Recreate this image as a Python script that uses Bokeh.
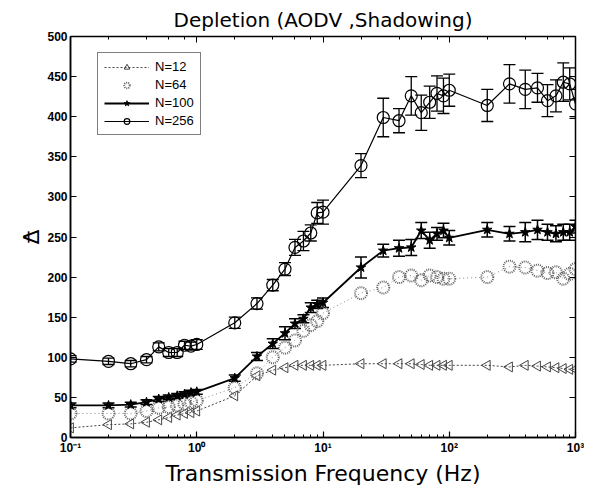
import numpy as np
from bokeh.plotting import figure
from bokeh.models import (ColumnDataSource, Whisker, TeeHead, LogAxis, LinearAxis,
                          Legend, LegendItem, CustomJSTickFormatter, Range1d, LogTicker,
                          SingleIntervalTicker)
from bokeh.embed import file_html
from bokeh.resources import INLINE

freq = [0.1, 0.2, 0.3, 0.4, 0.5, 0.6, 0.7, 0.8, 0.9, 1,
        2, 3, 4, 5, 6, 7, 8, 9, 10,
        20, 30, 40, 50, 60, 70, 80, 90, 100,
        200, 300, 400, 500, 600, 700, 800, 900, 1000]

n12 = [12, 16, 17, 19, 22, 25, 28, 30, 31, 33,
       52, 77, 84, 87, 90, 90, 90, 90, 90,
       92, 92, 92, 92, 91, 90, 90, 90, 90,
       90, 88, 90, 89, 88, 87, 86, 85, 85]

n64 = [30, 30, 30, 33, 37, 38, 40, 42, 44, 46,
       62, 80, 100, 112, 121, 133, 140, 145, 155,
       180, 187, 200, 202, 196, 202, 200, 198, 198,
       200, 213, 212, 208, 205, 206, 198, 204, 210]

n100 = [40, 40, 41, 44, 48, 50, 52, 54, 56, 57,
        74, 101, 117, 130, 142, 148, 162, 166, 168,
        212, 233, 236, 237, 258, 246, 254, 258, 249,
        259, 254, 256, 259, 256, 254, 256, 256, 263]
n100_err = [3, 3, 3, 3, 3, 3, 3, 3, 3, 3,
            4, 5, 6, 8, 6, 5, 6, 5, 6,
            13, 8, 10, 10, 10, 10, 8, 9, 9,
            9, 9, 12, 12, 10, 10, 10, 10, 8]

n256 = [98, 95, 92, 97, 113, 106, 106, 115, 114, 116,
        143, 167, 190, 210, 237, 245, 255, 280, 281,
        339, 399, 395, 426, 405, 418, 429, 426, 433,
        414, 441, 434, 436, 420, 426, 443, 441, 416]
n256_err = [4, 4, 4, 4, 5, 5, 5, 5, 5, 6,
            7, 7, 7, 8, 10, 12, 10, 13, 15,
            15, 24, 15, 24, 22, 20, 22, 22, 20,
            20, 24, 24, 18, 20, 20, 24, 20, 18]

W, H = 584, 490
p = figure(width=W, height=H, x_axis_type="log", output_backend="svg",
           toolbar_location=None, x_range=Range1d(0.1, 1000), y_range=Range1d(0, 500),
           min_border_left=70, min_border_right=W - 575, min_border_top=36,
           min_border_bottom=H - 437)
p.title.text = "Depletion (AODV ,Shadowing)"
p.title.align = "center"
p.title.text_font = "DejaVu Sans"
p.title.text_font_size = "20px"
p.title.text_font_style = "normal"
p.title.text_color = "black"
p.title.offset = 0
p.grid.visible = False
p.outline_line_color = "black"
p.outline_line_width = 1.5
p.background_fill_color = "white"
p.border_fill_color = "white"

fmt = CustomJSTickFormatter(code="""
const sup = {'-':'\u207b','0':'\u2070','1':'\u00b9','2':'\u00b2','3':'\u00b3','4':'\u2074','5':'\u2075','6':'\u2076','7':'\u2077','8':'\u2078','9':'\u2079'};
const e = String(Math.round(Math.log10(tick)));
let s = '10';
for (const c of e) { s += sup[c]; }
return s;
""")

xa = p.xaxis[0]
xa.formatter = fmt
xa.axis_label = "Transmission Frequency (Hz)"
xa.axis_label_text_font = "DejaVu Sans"
xa.axis_label_text_font_size = "22px"
xa.axis_label_text_font_style = "normal"
xa.axis_label_text_color = "black"
xa.axis_label_standoff = 3
ya = p.yaxis[0]
ya.ticker = SingleIntervalTicker(interval=50)
ya.axis_label = "_\n\u0394"
ya.axis_label_text_font = "DejaVu Sans"
ya.axis_label_text_font_size = "22px"
ya.axis_label_text_font_style = "normal"
ya.axis_label_text_color = "black"
ya.axis_label_text_line_height = 0.62
ya.axis_label_standoff = 0
ya.minor_tick_line_color = None

for ax in (xa, ya):
    ax.major_label_text_font = "Liberation Sans"
    ax.major_label_text_font_style = "bold"
    ax.major_label_text_font_size = "12px"
    ax.major_label_text_color = "black"
    ax.axis_line_color = "black"
    ax.axis_line_width = 1.5
    ax.major_tick_in = 6
    ax.major_tick_out = 0
    ax.minor_tick_in = 3
    ax.minor_tick_out = 0
    ax.major_tick_line_color = "black"
    ax.major_tick_line_width = 1.2
    ax.minor_tick_line_width = 1
    ax.major_label_standoff = 3

top = LogAxis(ticker=LogTicker(), major_tick_in=6, major_tick_out=0,
              minor_tick_in=3, minor_tick_out=0, axis_line_color="black")
top.major_label_text_color = None
top.major_label_text_font_size = "0px"
right = LinearAxis(ticker=SingleIntervalTicker(interval=50), major_tick_in=6, major_tick_out=0,
                   minor_tick_line_color=None, axis_line_color="black")
right.major_label_text_color = None
right.major_label_text_font_size = "0px"
p.add_layout(top, "above")
p.add_layout(right, "right")

src12 = ColumnDataSource(dict(x=freq, y=n12, ang=[np.pi / 2] * len(freq)))
src64 = ColumnDataSource(dict(x=freq, y=n64))
src100 = ColumnDataSource(dict(x=freq, y=n100,
                               lo=[v - e for v, e in zip(n100, n100_err)],
                               hi=[v + e for v, e in zip(n100, n100_err)]))
src256 = ColumnDataSource(dict(x=freq, y=n256,
                               lo=[v - e for v, e in zip(n256, n256_err)],
                               hi=[v + e for v, e in zip(n256, n256_err)]))

# N=12
l12 = p.line("x", "y", source=src12, line_color="#444444", line_dash="2 2", line_width=1)
m12 = p.scatter("x", "y", source=src12, marker="triangle", angle="ang", size=10,
                fill_color=None, line_color="#444444", line_width=1)
# N=64
l64 = p.line("x", "y", source=src64, line_color="#888888", line_dash="1 3", line_width=1)
m64 = p.scatter("x", "y", source=src64, marker="circle", size=12, fill_color=None,
                line_color="#666666", line_dash="1 1", line_width=2)
# N=100
l100 = p.line("x", "y", source=src100, line_color="black", line_width=1.8)
w100 = Whisker(source=src100, base="x", lower="lo", upper="hi", line_color="black", line_width=1.5,
               upper_head=TeeHead(size=12, line_color="black", line_width=1.5),
               lower_head=TeeHead(size=12, line_color="black", line_width=1.5))
p.add_layout(w100)
m100 = p.scatter("x", "y", source=src100, marker="star", size=10, fill_color="black",
                 line_color="black")
# N=256
l256 = p.line("x", "y", source=src256, line_color="black", line_width=1.2)
w256 = Whisker(source=src256, base="x", lower="lo", upper="hi", line_color="black", line_width=1.3,
               upper_head=TeeHead(size=12, line_color="black", line_width=1.3),
               lower_head=TeeHead(size=12, line_color="black", line_width=1.3))
p.add_layout(w256)
m256 = p.scatter("x", "y", source=src256, marker="circle", size=12, fill_color=None,
                 line_color="black", line_width=1.2)

legend = Legend(items=[
    LegendItem(label="N=12", renderers=[l12, m12], index=0),
    LegendItem(label="N=64", renderers=[m64]),
    LegendItem(label="N=100", renderers=[l100, m100]),
    LegendItem(label="N=256", renderers=[l256, m256]),
], location=(27, 302))
legend.label_text_font = "Liberation Sans"
legend.label_text_font_size = "13px"
legend.label_text_color = "black"
legend.glyph_width = 45
legend.glyph_height = 14
legend.label_height = 14
legend.spacing = 3
legend.padding = 6
legend.margin = 0
legend.label_standoff = 6
legend.border_line_color = "black"
legend.border_line_width = 1.5
legend.background_fill_alpha = 1
p.add_layout(legend, "center")

open("out.html", "w").write(file_html(p, INLINE))
